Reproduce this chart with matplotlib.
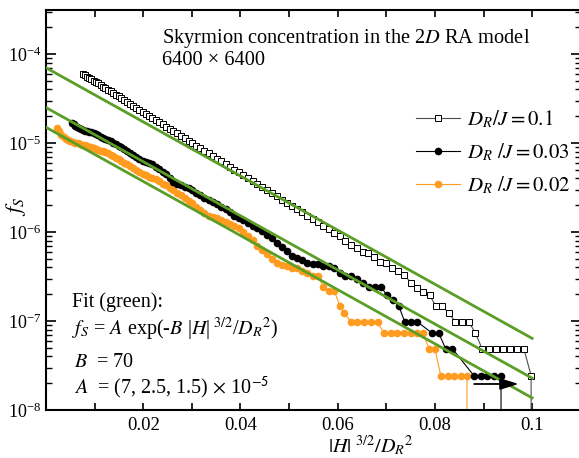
import numpy as np
import matplotlib
matplotlib.use('Agg')
import matplotlib.pyplot as plt

plt.rcParams['font.family'] = 'serif'
plt.rcParams['font.serif'] = ['Liberation Serif', 'DejaVu Serif']
plt.rcParams['mathtext.fontset'] = 'stix'

# ---- data ----
# D_R/J = 0.1 (open squares)
x_01 = [0.00760, 0.00801, 0.00845, 0.00887, 0.00931, 0.00978, 0.01024, 0.01071, 0.01121, 0.01171,
        0.01221, 0.01275, 0.01327, 0.01381, 0.01438, 0.01493, 0.01550, 0.01610, 0.01669, 0.01729,
        0.01793, 0.01855, 0.01918, 0.01985, 0.02051, 0.02117, 0.02187, 0.02256, 0.02326, 0.02399,
        0.02471, 0.02544, 0.02621, 0.02696, 0.02772, 0.02853, 0.02931, 0.03010, 0.03094, 0.03176,
        0.03258, 0.03345, 0.03430, 0.03516, 0.03606, 0.03694, 0.03783, 0.03877, 0.03968, 0.04060,
        0.04157, 0.04252, 0.04347, 0.04448, 0.04545, 0.04644, 0.04748, 0.04849, 0.04951, 0.05058,
        0.05162, 0.05267, 0.05378, 0.05485, 0.05593, 0.05707, 0.05818, 0.05929, 0.06047, 0.06160,
        0.06275, 0.06396, 0.06513, 0.06631, 0.06755, 0.06875, 0.06996, 0.07124, 0.07247, 0.07371,
        0.07502, 0.07629, 0.07756, 0.07890, 0.08020, 0.08151, 0.08289, 0.08422, 0.08556, 0.08697,
        0.08833, 0.08970, 0.09114, 0.09254, 0.09394, 0.09542, 0.09685, 0.09828, 0.09979, 0.09979]
f_01 = [5.96e-5, 5.77e-5, 5.57e-5, 5.39e-5, 5.20e-5, 5.01e-5, 4.83e-5, 4.66e-5, 4.47e-5, 4.30e-5,
        4.13e-5, 3.95e-5, 3.79e-5, 3.64e-5, 3.48e-5, 3.33e-5, 3.18e-5, 3.03e-5, 2.89e-5, 2.76e-5,
        2.62e-5, 2.50e-5, 2.37e-5, 2.25e-5, 2.14e-5, 2.03e-5, 1.92e-5, 1.82e-5, 1.72e-5, 1.62e-5,
        1.53e-5, 1.45e-5, 1.36e-5, 1.28e-5, 1.20e-5, 1.13e-5, 1.06e-5, 9.97e-6, 9.33e-6, 8.74e-6,
        8.19e-6, 7.64e-6, 7.14e-6, 6.67e-6, 6.21e-6, 5.79e-6, 5.40e-6, 5.01e-6, 4.66e-6, 4.33e-6,
        4.01e-6, 3.72e-6, 3.45e-6, 3.18e-6, 2.95e-6, 2.72e-6, 2.51e-6, 2.31e-6, 2.13e-6, 1.96e-6,
        1.80e-6, 1.66e-6, 1.52e-6, 1.40e-6, 1.28e-6, 1.17e-6, 1.07e-6, 9.8e-7, 8.9e-7, 8.0e-7,
        7.1e-7, 6.6e-7, 6.0e-7, 5.8e-7, 5.2e-7, 4.6e-7, 4.5e-7, 3.9e-7, 3.6e-7, 3.3e-7,
        2.7e-7, 2.35e-7, 2.1e-7, 1.95e-7, 1.47e-7, 1.47e-7, 1.22e-7, 9.8e-8, 9.8e-8, 9.8e-8,
        7.3e-8, 4.9e-8, 4.9e-8, 4.9e-8, 4.9e-8, 4.9e-8, 4.9e-8, 4.9e-8, 2.44e-8, 0]

# D_R/J = 0.03 (black circles)
x_003 = [0.00536, 0.00570, 0.00605, 0.00640, 0.00680, 0.00720, 0.00760, 0.00801, 0.00845, 0.00887,
         0.00931, 0.00978, 0.01024, 0.01071, 0.01121, 0.01171, 0.01221, 0.01275, 0.01327, 0.01381,
         0.01438, 0.01493, 0.01550, 0.01610, 0.01669, 0.01729, 0.01793, 0.01855, 0.01918, 0.01985,
         0.02051, 0.02117, 0.02187, 0.02256, 0.02326, 0.02399, 0.02471, 0.02544, 0.02621, 0.02696,
         0.02772, 0.02853, 0.02931, 0.03010, 0.03094, 0.03176, 0.03258, 0.03345, 0.03430, 0.03516,
         0.03606, 0.03694, 0.03783, 0.03877, 0.03968, 0.04060, 0.04157, 0.04252, 0.04347, 0.04448,
         0.04545, 0.04644, 0.04748, 0.04849, 0.04951, 0.05058, 0.05162, 0.05267, 0.05378, 0.05485,
         0.05593, 0.05707, 0.05818, 0.05929, 0.0604, 0.0616, 0.0628, 0.0640, 0.0652, 0.0664,
         0.0676, 0.0689, 0.0701, 0.0713, 0.0726, 0.0738, 0.0751, 0.0764, 0.0794, 0.0808,
         0.0822, 0.0836, 0.0880, 0.0894, 0.0908, 0.0922, 0.0936, 0.0936]
f_003 = [1.68e-5, 1.62e-5, 1.57e-5, 1.51e-5, 1.48e-5, 1.44e-5, 1.40e-5, 1.38e-5, 1.36e-5, 1.34e-5,
         1.32e-5, 1.29e-5, 1.25e-5, 1.22e-5, 1.18e-5, 1.14e-5, 1.11e-5, 1.07e-5, 1.04e-5, 1.00e-5,
         9.68e-6, 9.35e-6, 9.02e-6, 8.65e-6, 8.20e-6, 7.78e-6, 7.35e-6, 6.95e-6, 6.58e-6, 6.31e-6,
         6.15e-6, 6.01e-6, 5.81e-6, 5.43e-6, 5.08e-6, 4.74e-6, 4.43e-6, 4.03e-6, 3.63e-6, 3.48e-6,
         3.35e-6, 3.21e-6, 3.08e-6, 2.93e-6, 2.75e-6, 2.59e-6, 2.44e-6, 2.28e-6, 2.16e-6, 2.05e-6,
         1.93e-6, 1.81e-6, 1.67e-6, 1.53e-6, 1.42e-6, 1.35e-6, 1.27e-6, 1.17e-6, 1.10e-6, 1.02e-6,
         9.3e-7, 8.5e-7, 7.6e-7, 6.8e-7, 6.1e-7, 5.4e-7, 5.1e-7, 4.8e-7, 4.5e-7, 4.39e-7,
         4.39e-7, 4.15e-7, 4.15e-7, 3.9e-7, 3.42e-7, 3.17e-7, 3.17e-7, 2.93e-7, 2.68e-7, 2.44e-7,
         2.44e-7, 2.44e-7, 1.95e-7, 1.71e-7, 1.46e-7, 9.77e-8, 9.77e-8, 9.77e-8, 7.32e-8, 7.32e-8,
         4.88e-8, 4.88e-8, 2.44e-8, 2.44e-8, 2.44e-8, 2.44e-8, 2.44e-8, 0]

# D_R/J = 0.02 (orange circles)
x_002 = [0.00227, 0.00270, 0.00315, 0.00360, 0.00405, 0.00450, 0.00500, 0.00550, 0.00600, 0.00650,
         0.00700, 0.00750, 0.00801, 0.00845, 0.00887, 0.00931, 0.00978, 0.01024, 0.01071, 0.01121,
         0.01171, 0.01221, 0.01275, 0.01327, 0.01381, 0.01438, 0.01493, 0.01550, 0.01610, 0.01669,
         0.01729, 0.01793, 0.01855, 0.01918, 0.01985, 0.02051, 0.02117, 0.02187, 0.02256, 0.02326,
         0.02399, 0.02471, 0.02544, 0.02621, 0.02696, 0.02772, 0.02853, 0.02931, 0.03010, 0.03094,
         0.03176, 0.03258, 0.03345, 0.03430, 0.03516, 0.03606, 0.03694, 0.03783, 0.03877, 0.03968,
         0.04060, 0.04157, 0.04252, 0.04347, 0.04448, 0.04545, 0.04644, 0.04748, 0.04849, 0.04951,
         0.05058, 0.05162, 0.05267, 0.05378, 0.05485, 0.05593, 0.05707, 0.05818, 0.05929, 0.06047,
         0.0614, 0.0627, 0.0639, 0.0654, 0.0668, 0.0682, 0.0695, 0.0709, 0.0722, 0.0736,
         0.0751, 0.0763, 0.0775, 0.0788, 0.0800, 0.0812, 0.0827, 0.0839, 0.0854, 0.0866, 0.0866]
f_002 = [1.47e-5, 1.35e-5, 1.24e-5, 1.16e-5, 1.12e-5, 1.09e-5, 1.06e-5, 1.03e-5, 1.01e-5, 9.9e-6,
         9.7e-6, 9.55e-6, 9.4e-6, 9.2e-6, 9.1e-6, 8.9e-6, 8.7e-6, 8.6e-6, 8.4e-6, 8.2e-6,
         8.1e-6, 7.9e-6, 7.7e-6, 7.4e-6, 7.1e-6, 6.85e-6, 6.6e-6, 6.3e-6, 6.0e-6, 5.75e-6,
         5.5e-6, 5.2e-6, 4.95e-6, 4.7e-6, 4.5e-6, 4.35e-6, 4.2e-6, 4.05e-6, 3.9e-6, 3.75e-6,
         3.5e-6, 3.35e-6, 3.15e-6, 2.95e-6, 2.75e-6, 2.6e-6, 2.4e-6, 2.25e-6, 2.1e-6, 1.92e-6,
         1.77e-6, 1.64e-6, 1.53e-6, 1.48e-6, 1.42e-6, 1.36e-6, 1.29e-6, 1.23e-6, 1.17e-6, 1.11e-6,
         1.01e-6, 9.1e-7, 8.2e-7, 6.9e-7, 6.2e-7, 5.6e-7, 5.0e-7, 4.5e-7, 4.25e-7, 4.15e-7,
         3.9e-7, 3.9e-7, 3.66e-7, 3.42e-7, 3.17e-7, 3.17e-7, 2.44e-7, 2.2e-7, 2.2e-7, 1.46e-7,
         1.22e-7, 9.77e-8, 9.77e-8, 9.77e-8, 9.77e-8, 9.77e-8, 7.32e-8, 7.32e-8, 7.32e-8, 7.32e-8,
         7.32e-8, 7.32e-8, 7.32e-8, 4.88e-8, 4.88e-8, 2.44e-8, 2.44e-8, 2.44e-8, 2.44e-8, 2.44e-8, 0]

# fit f_S = A exp(-B x)
fit_B = 70
fit_A = [7e-5, 2.5e-5, 1.5e-5]
fit_x = [0.0, 0.1]

xtick_pos = [0.01, 0.02, 0.03, 0.04, 0.05, 0.06, 0.07, 0.08, 0.09, 0.10]
xtick_lab = ['', '0.02', '', '0.04', '', '0.06', '', '0.08', '', '0.1']

green = '#5a9e26'
orange = '#ff9b1e'
floor = 1e-12

fig = plt.figure(figsize=(5.79, 4.58), dpi=100)
ax = fig.add_axes([0.0795, 0.1048, 0.9235, 0.8734])

ax.plot(x_01, np.clip(f_01, floor, None), '-', color='0.3', lw=0.8, marker='s',
        ms=5, mfc='white', mec='black', mew=0.7, label=r'$D_R/J = 0.1$')
ax.plot(x_002, np.clip(f_002, floor, None), '-', color=orange, lw=0.8, marker='o',
        ms=5.5, mfc=orange, mec=orange, mew=0, label=r'$D_R\ /J = 0.02$', zorder=2)
ax.plot(x_003, np.clip(f_003, floor, None), '-', color='black', lw=0.8, marker='o',
        ms=5.5, mfc='black', mec='black', mew=0, label=r'$D_R\ /J = 0.03$', zorder=2.1)

fx = np.array(fit_x)
for A in fit_A:
    ax.plot(fx, A * np.exp(-fit_B * fx), '-', color=green, lw=2.0, zorder=3)

ax.annotate('', xy=(0.0978, 1.96e-8), xytext=(0.0875, 1.96e-8),
            arrowprops=dict(arrowstyle='-|>,head_length=0.8,head_width=0.25',
                            color='black', lw=1.3, mutation_scale=14))

ax.set_yscale('log')
ax.set_xlim(0, 0.11)
ax.set_ylim(1e-8, 3.12e-4)

ax.set_xticks(xtick_pos)
ax.set_xticklabels(xtick_lab)
ax.tick_params(axis='x', which='major', direction='in', length=5, width=1.2,
               top=True, labelsize=13.5, pad=5)
ax.tick_params(axis='y', which='major', direction='in', length=7, width=1.2,
               right=True, labelsize=13)
ax.tick_params(axis='y', which='minor', direction='in', length=4, width=1.0, right=True)
for s in ax.spines.values():
    s.set_linewidth(1.5)

ax.set_ylabel(r'$f_S$', fontsize=16)
ax.yaxis.set_label_coords(-0.034, 0.51)
ax.set_xlabel(r'$|H|\ ^{3/2}/D_R{}^2$', fontsize=14.5)
ax.xaxis.set_label_coords(0.607, -0.058)

# legend in reference order
h, l = ax.get_legend_handles_labels()
order = [0, 2, 1]
ax.legend([h[i] for i in order], [l[i] for i in order], loc='upper left',
          bbox_to_anchor=(0.672, 0.78), frameon=False, fontsize=15,
          handlelength=2.1, handletextpad=0.35, labelspacing=0.55, borderpad=0)

tr = ax.transAxes
ax.text(0.216, 0.9175, r'Skyrmion concentration in the 2$D$ RA model', transform=tr,
        fontsize=14.7, va='baseline')
ax.text(0.216, 0.8625, '6400 \u00d7 6400', transform=tr, fontsize=14.7, va='baseline')

ax.text(0.048, 0.2575, 'Fit (green):', transform=tr, fontsize=14.5, va='baseline')
ax.text(0.048, 0.1875, r'$f_S$ = $A$ exp(-$B$ |$H$|$^{\ 3/2}$/$D_R{}^2$)', transform=tr,
        fontsize=14.5, va='baseline')
ax.text(0.052, 0.1075, r'$B$  = 70', transform=tr, fontsize=14.5, va='baseline')
ax.text(0.052, 0.04, r'$A$  = (7, 2.5, 1.5) $\times$ 10$^{\mathsf{-5}}$', transform=tr,
        fontsize=14.5, va='baseline')

fig.savefig('out.png', dpi=100)
